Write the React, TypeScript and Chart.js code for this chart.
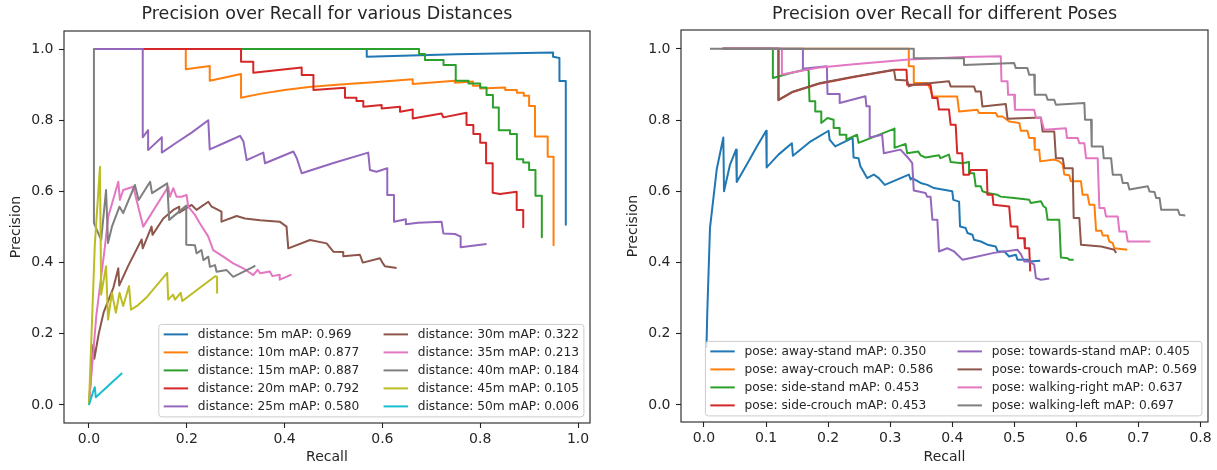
import React, { useEffect, useRef } from 'react';
import { Chart, registerables } from 'chart.js';

Chart.register(...registerables);

type Pt = [number, number];

const COLORS = ['#1f77b4', '#ff7f0e', '#2ca02c', '#d62728', '#9467bd', '#8c564b', '#e377c2', '#7f7f7f', '#bcbd22', '#17becf'];
const FONT = '"DejaVu Sans", sans-serif';
const TEXT = '#262626';

// ---------- Left chart: distances ----------
const distanceTitle = 'Precision over Recall for various Distances';
const distanceLabels = [
  'distance: 5m mAP: 0.969',
  'distance: 10m mAP: 0.877',
  'distance: 15m mAP: 0.887',
  'distance: 20m mAP: 0.792',
  'distance: 25m mAP: 0.580',
  'distance: 30m mAP: 0.322',
  'distance: 35m mAP: 0.213',
  'distance: 40m mAP: 0.184',
  'distance: 45m mAP: 0.105',
  'distance: 50m mAP: 0.006',
];
const distanceXTicks = [0, 0.2, 0.4, 0.6, 0.8, 1.0];
const precisionTicks = [0, 0.2, 0.4, 0.6, 0.8, 1.0];

const dist5m: Pt[] = [[0.0102, 1], [0.568, 1], [0.568, 0.978], [0.75, 0.985], [0.949, 0.99], [0.949, 0.978], [0.962, 0.975], [0.962, 0.91], [0.975, 0.91], [0.975, 0.506]];
const dist10m: Pt[] = [[0.0102, 1], [0.198, 1], [0.198, 0.943], [0.247, 0.952], [0.247, 0.911], [0.311, 0.93], [0.311, 0.863], [0.35, 0.874], [0.4, 0.885], [0.45, 0.893], [0.5, 0.899], [0.55, 0.904], [0.575, 0.906], [0.662, 0.915], [0.662, 0.902], [0.748, 0.911], [0.748, 0.905], [0.785, 0.909], [0.785, 0.897], [0.8, 0.897], [0.8, 0.889], [0.851, 0.892], [0.851, 0.885], [0.875, 0.885], [0.875, 0.877], [0.889, 0.877], [0.889, 0.869], [0.9, 0.869], [0.9, 0.84], [0.912, 0.84], [0.912, 0.754], [0.938, 0.754], [0.938, 0.697], [0.95, 0.697], [0.95, 0.449]];
const dist15m: Pt[] = [[0.0102, 1], [0.675, 1], [0.675, 0.986], [0.687, 0.986], [0.687, 0.969], [0.725, 0.969], [0.725, 0.955], [0.75, 0.955], [0.75, 0.911], [0.776, 0.911], [0.776, 0.903], [0.8, 0.903], [0.8, 0.892], [0.813, 0.892], [0.813, 0.871], [0.826, 0.871], [0.826, 0.836], [0.838, 0.836], [0.838, 0.772], [0.861, 0.772], [0.861, 0.761], [0.875, 0.761], [0.875, 0.69], [0.888, 0.69], [0.888, 0.681], [0.9, 0.681], [0.9, 0.66], [0.913, 0.66], [0.913, 0.588], [0.926, 0.588], [0.926, 0.471]];
const dist20m: Pt[] = [[0.0102, 1], [0.311, 1], [0.311, 0.964], [0.336, 0.964], [0.336, 0.933], [0.435, 0.948], [0.435, 0.927], [0.459, 0.927], [0.459, 0.885], [0.5235, 0.891], [0.5235, 0.863], [0.547, 0.863], [0.547, 0.854], [0.561, 0.854], [0.561, 0.838], [0.5985, 0.843], [0.5985, 0.833], [0.636, 0.838], [0.636, 0.824], [0.662, 0.83], [0.662, 0.805], [0.721, 0.819], [0.7246, 0.808], [0.772, 0.821], [0.772, 0.7865], [0.786, 0.7865], [0.786, 0.761], [0.8, 0.761], [0.8, 0.737], [0.812, 0.737], [0.812, 0.679], [0.8255, 0.679], [0.8255, 0.596], [0.8405, 0.593], [0.8746, 0.599], [0.8746, 0.548], [0.888, 0.548], [0.888, 0.499]];
const dist25m: Pt[] = [[0.0102, 1], [0.11, 1], [0.11, 0.752], [0.121, 0.772], [0.121, 0.716], [0.149, 0.752], [0.149, 0.709], [0.18, 0.738], [0.21, 0.765], [0.244, 0.8], [0.247, 0.718], [0.28, 0.738], [0.309, 0.756], [0.316, 0.74], [0.3225, 0.688], [0.3565, 0.709], [0.36, 0.679], [0.418, 0.712], [0.425, 0.693], [0.435, 0.651], [0.5, 0.68], [0.571, 0.709], [0.5746, 0.66], [0.588, 0.655], [0.61, 0.665], [0.61, 0.59], [0.6237, 0.59], [0.6237, 0.515], [0.648, 0.5215], [0.648, 0.5075], [0.673, 0.512], [0.721, 0.515], [0.7246, 0.482], [0.7485, 0.4803], [0.76, 0.473], [0.76, 0.443], [0.813, 0.452]];
const dist30m: Pt[] = [[0, 0], [0.006, 0.125], [0.009, 0.17], [0.011, 0.13], [0.02, 0.2], [0.03, 0.26], [0.05, 0.33], [0.06, 0.384], [0.062, 0.336], [0.08, 0.39], [0.1077, 0.465], [0.11, 0.44], [0.128, 0.501], [0.13, 0.478], [0.152, 0.524], [0.1725, 0.548], [0.1847, 0.557], [0.1847, 0.54], [0.21, 0.562], [0.22, 0.548], [0.244, 0.571], [0.251, 0.557], [0.271, 0.543], [0.271, 0.515], [0.302, 0.531], [0.319, 0.524], [0.35, 0.519], [0.39, 0.515], [0.404, 0.501], [0.4076, 0.44], [0.452, 0.4635], [0.486, 0.454], [0.4997, 0.4307], [0.52, 0.43], [0.52, 0.418], [0.554, 0.422], [0.56, 0.4], [0.595, 0.412], [0.6, 0.4], [0.605, 0.39], [0.629, 0.385]];
const dist35m: Pt[] = [[0, 0], [0.015, 0.25], [0.0327, 0.445], [0.0395, 0.529], [0.06, 0.627], [0.0634, 0.576], [0.07, 0.604], [0.0906, 0.613], [0.111, 0.501], [0.162, 0.613], [0.1656, 0.585], [0.1725, 0.609], [0.179, 0.585], [0.1895, 0.585], [0.1997, 0.59], [0.203, 0.557], [0.2168, 0.534], [0.227, 0.51], [0.244, 0.473], [0.254, 0.435], [0.2747, 0.4166], [0.295, 0.398], [0.3155, 0.384], [0.336, 0.365], [0.345, 0.38], [0.35, 0.37], [0.37, 0.375], [0.375, 0.362], [0.39, 0.366], [0.39, 0.352], [0.414, 0.366]];
const dist40m: Pt[] = [[0.0102, 1], [0.0102, 0.511], [0.025, 0.464], [0.035, 0.604], [0.039, 0.455], [0.047, 0.501], [0.0625, 0.557], [0.07, 0.539], [0.094, 0.618], [0.1016, 0.576], [0.125, 0.627], [0.129, 0.595], [0.16, 0.6226], [0.164, 0.52], [0.199, 0.56], [0.199, 0.45], [0.2168, 0.449], [0.22, 0.426], [0.23, 0.435], [0.234, 0.407], [0.244, 0.4166], [0.2474, 0.388], [0.2577, 0.393], [0.261, 0.374], [0.2816, 0.379], [0.295, 0.36], [0.336, 0.388], [0.34, 0.392]];
const dist45m: Pt[] = [[0, 0], [0.012, 0.45], [0.0225, 0.669], [0.025, 0.31], [0.035, 0.39], [0.039, 0.24], [0.047, 0.315], [0.055, 0.259], [0.0625, 0.315], [0.07, 0.278], [0.082, 0.334], [0.086, 0.268], [0.1, 0.28], [0.117, 0.301], [0.16, 0.371], [0.162, 0.296], [0.172, 0.31], [0.176, 0.296], [0.1875, 0.315], [0.191, 0.292], [0.258, 0.3616], [0.262, 0.36], [0.262, 0.315]];
const dist50m: Pt[] = [[0, 0], [0.008, 0.035], [0.012, 0.05], [0.014, 0.022], [0.068, 0.09]];

const distanceSeries = [dist5m, dist10m, dist15m, dist20m, dist25m, dist30m, dist35m, dist40m, dist45m, dist50m];

// ---------- Right chart: poses ----------
const poseTitle = 'Precision over Recall for different Poses';
const poseLabels = [
  'pose: away-stand mAP: 0.350',
  'pose: away-crouch mAP: 0.586',
  'pose: side-stand mAP: 0.453',
  'pose: side-crouch mAP: 0.453',
  'pose: towards-stand mAP: 0.405',
  'pose: towards-crouch mAP: 0.569',
  'pose: walking-right mAP: 0.637',
  'pose: walking-left mAP: 0.697',
];
const poseXTicks = [0, 0.1, 0.2, 0.3, 0.4, 0.5, 0.6, 0.7, 0.8];

const awayStand: Pt[] = [[0.004, 0.16], [0.0054, 0.263], [0.0097, 0.497], [0.0205, 0.661], [0.0312, 0.751], [0.0323, 0.6], [0.042, 0.675], [0.0517, 0.717], [0.0528, 0.626], [0.069, 0.675], [0.085, 0.725], [0.1002, 0.77], [0.101, 0.667], [0.12, 0.703], [0.1416, 0.735], [0.1433, 0.7], [0.17, 0.738], [0.2008, 0.77], [0.2024, 0.745], [0.2115, 0.726], [0.2395, 0.75], [0.241, 0.695], [0.249, 0.693], [0.252, 0.67], [0.2628, 0.637], [0.2735, 0.647], [0.2816, 0.637], [0.2913, 0.618], [0.3301, 0.647], [0.3328, 0.633], [0.3355, 0.637], [0.349, 0.6235], [0.36, 0.618], [0.3705, 0.609], [0.4, 0.6], [0.4017, 0.576], [0.411, 0.571], [0.4125, 0.501], [0.4216, 0.497], [0.4244, 0.483], [0.4325, 0.478], [0.435, 0.464], [0.446, 0.459], [0.4567, 0.45], [0.47, 0.445], [0.473, 0.431], [0.484, 0.431], [0.4916, 0.417], [0.5024, 0.422], [0.505, 0.408], [0.5213, 0.408], [0.524, 0.403], [0.5417, 0.405]];
const awayCrouch: Pt[] = [[0.03, 1], [0.33, 1], [0.33, 0.951], [0.338, 0.951], [0.338, 0.904], [0.36, 0.904], [0.365, 0.885], [0.368, 0.866], [0.408, 0.866], [0.411, 0.824], [0.4405, 0.829], [0.443, 0.82], [0.47, 0.82], [0.473, 0.81], [0.481, 0.81], [0.4917, 0.796], [0.508, 0.792], [0.5105, 0.77], [0.521, 0.77], [0.524, 0.75], [0.532, 0.75], [0.533, 0.717], [0.54, 0.717], [0.5417, 0.684], [0.5643, 0.689], [0.5724, 0.684], [0.578, 0.675], [0.5805, 0.647], [0.5886, 0.645], [0.591, 0.628], [0.6074, 0.628], [0.61, 0.59], [0.618, 0.59], [0.621, 0.562], [0.629, 0.562], [0.6317, 0.489], [0.64, 0.489], [0.6424, 0.476], [0.6505, 0.476], [0.653, 0.459], [0.6586, 0.4545], [0.661, 0.44], [0.682, 0.4357]];
const sideStand: Pt[] = [[0.03, 1], [0.111, 1], [0.111, 0.918], [0.14, 0.932], [0.1685, 0.944], [0.17, 0.853], [0.1793, 0.853], [0.1793, 0.824], [0.189, 0.824], [0.189, 0.792], [0.199, 0.806], [0.2089, 0.801], [0.2089, 0.778], [0.2186, 0.778], [0.2186, 0.759], [0.2294, 0.759], [0.2294, 0.745], [0.2466, 0.759], [0.249, 0.736], [0.307, 0.776], [0.307, 0.722], [0.3247, 0.733], [0.3274, 0.707], [0.345, 0.712], [0.349, 0.701], [0.357, 0.695], [0.3786, 0.701], [0.381, 0.693], [0.3947, 0.703], [0.3974, 0.682], [0.416, 0.679], [0.427, 0.682], [0.427, 0.651], [0.435, 0.651], [0.4378, 0.614], [0.446, 0.614], [0.4486, 0.6], [0.4567, 0.595], [0.4728, 0.59], [0.478, 0.585], [0.4997, 0.581], [0.524, 0.576], [0.5266, 0.567], [0.5428, 0.572], [0.547, 0.558], [0.551, 0.553], [0.5536, 0.52], [0.5724, 0.52], [0.575, 0.414], [0.586, 0.412], [0.5886, 0.4077], [0.5956, 0.4077]];
const sideCrouch: Pt[] = [[0.03, 1], [0.12, 1], [0.12, 0.856], [0.143, 0.879], [0.1874, 0.903], [0.2413, 0.921], [0.3086, 0.9415], [0.3263, 0.9415], [0.3274, 0.899], [0.365, 0.899], [0.368, 0.862], [0.376, 0.862], [0.3786, 0.8295], [0.3947, 0.8295], [0.3974, 0.787], [0.4055, 0.787], [0.408, 0.707], [0.416, 0.707], [0.418, 0.6466], [0.427, 0.6466], [0.4297, 0.66], [0.4556, 0.66], [0.4567, 0.59], [0.4648, 0.59], [0.4664, 0.562], [0.4917, 0.5575], [0.4943, 0.501], [0.505, 0.501], [0.506, 0.468], [0.5159, 0.468], [0.517, 0.44], [0.524, 0.44], [0.5256, 0.375]];
const towardsStand: Pt[] = [[0.03, 1], [0.1594, 1], [0.1594, 0.944], [0.198, 0.951], [0.199, 0.873], [0.2186, 0.873], [0.2186, 0.848], [0.2601, 0.867], [0.2617, 0.839], [0.267, 0.839], [0.267, 0.751], [0.287, 0.759], [0.2897, 0.707], [0.3166, 0.717], [0.3284, 0.695], [0.3355, 0.679], [0.338, 0.602], [0.357, 0.595], [0.3595, 0.585], [0.365, 0.585], [0.368, 0.52], [0.376, 0.52], [0.3786, 0.431], [0.392, 0.44], [0.403, 0.431], [0.4163, 0.408], [0.4297, 0.4125], [0.467, 0.427], [0.5051, 0.4357], [0.5105, 0.4236], [0.516, 0.403], [0.524, 0.403], [0.532, 0.394], [0.5348, 0.356], [0.5428, 0.3516], [0.5563, 0.355]];
const towardsCrouch: Pt[] = [[0.03, 1], [0.12, 1], [0.12, 0.857], [0.143, 0.88], [0.1874, 0.904], [0.2413, 0.922], [0.306, 0.9415], [0.3086, 0.9135], [0.3274, 0.911], [0.33, 0.8946], [0.338, 0.899], [0.3947, 0.909], [0.3974, 0.8946], [0.435, 0.8946], [0.4378, 0.88], [0.446, 0.88], [0.4486, 0.838], [0.4863, 0.845], [0.489, 0.804], [0.5428, 0.8075], [0.5455, 0.768], [0.5643, 0.768], [0.567, 0.693], [0.578, 0.693], [0.5805, 0.665], [0.594, 0.665], [0.5956, 0.525], [0.6047, 0.525], [0.6074, 0.45], [0.64, 0.445], [0.661, 0.436], [0.664, 0.427]];
const walkingRight: Pt[] = [[0.03, 1], [0.1255, 1], [0.1255, 0.928], [0.1551, 0.938], [0.1874, 0.948], [0.2413, 0.957], [0.33, 0.97], [0.4189, 0.977], [0.4782, 0.979], [0.4793, 0.909], [0.489, 0.909], [0.49, 0.8708], [0.4997, 0.8708], [0.501, 0.829], [0.532, 0.829], [0.535, 0.8057], [0.5428, 0.8057], [0.548, 0.773], [0.583, 0.777], [0.5848, 0.75], [0.602, 0.75], [0.6047, 0.735], [0.6128, 0.735], [0.6155, 0.693], [0.6343, 0.693], [0.637, 0.553], [0.645, 0.553], [0.6478, 0.529], [0.6666, 0.529], [0.6693, 0.487], [0.68, 0.487], [0.6827, 0.459], [0.719, 0.459]];
const walkingLeft: Pt[] = [[0.0097, 1], [0.338, 1], [0.338, 0.974], [0.4189, 0.974], [0.4189, 0.955], [0.4997, 0.96], [0.5024, 0.946], [0.521, 0.946], [0.524, 0.927], [0.532, 0.927], [0.533, 0.871], [0.551, 0.871], [0.5536, 0.857], [0.5643, 0.857], [0.567, 0.843], [0.6128, 0.848], [0.6139, 0.801], [0.6236, 0.801], [0.6247, 0.726], [0.6424, 0.726], [0.644, 0.693], [0.6559, 0.693], [0.6586, 0.6466], [0.672, 0.6466], [0.6747, 0.623], [0.6827, 0.623], [0.6854, 0.605], [0.715, 0.614], [0.7178, 0.5997], [0.7258, 0.598], [0.7285, 0.581], [0.734, 0.581], [0.7366, 0.548], [0.7636, 0.548], [0.7663, 0.534], [0.7754, 0.532]];

const poseSeries = [awayStand, awayCrouch, sideStand, sideCrouch, towardsStand, towardsCrouch, walkingRight, walkingLeft];

// ---------- plugins ----------
const framePlugin = {
  id: 'mplFrame',
  afterDatasetsDraw(chart: any) {
    const { ctx, chartArea } = chart;
    ctx.save();
    ctx.strokeStyle = '#222';
    ctx.lineWidth = 1.1;
    ctx.strokeRect(chartArea.left, chartArea.top, chartArea.right - chartArea.left, chartArea.bottom - chartArea.top);
    ctx.restore();
  },
};

const legendPlugin = {
  id: 'mplLegend',
  afterDraw(chart: any) {
    const { ctx, chartArea } = chart;
    const f = 12.2;
    const ds = chart.data.datasets;
    const ncol = 2;
    const nrows = Math.ceil(ds.length / ncol);
    const pad = 0.4 * f;
    const hl = 2 * f;
    const htp = 0.8 * f;
    const cs = 2 * f;
    const axpad = 0.5 * f;
    const rowStep = 18;
    const topInset = 10;
    const bottomInset = 10.5;
    ctx.save();
    ctx.font = `${f}px ${FONT}`;
    const colW: number[] = [];
    for (let c = 0; c < ncol; c++) {
      let m = 0;
      for (let r = 0; r < nrows; r++) {
        const i = c * nrows + r;
        if (i < ds.length) m = Math.max(m, ctx.measureText(ds[i].label).width);
      }
      colW.push(hl + htp + m);
    }
    const boxW = 2 * pad + colW.reduce((a, b) => a + b, 0) + cs * (ncol - 1);
    const boxH = topInset + (nrows - 1) * rowStep + bottomInset;
    const right = chartArea.right - axpad;
    const bottom = chartArea.bottom - axpad;
    const left = right - boxW;
    const top = bottom - boxH;
    const rad = 3;
    ctx.beginPath();
    ctx.moveTo(left + rad, top);
    ctx.lineTo(right - rad, top);
    ctx.arcTo(right, top, right, top + rad, rad);
    ctx.lineTo(right, bottom - rad);
    ctx.arcTo(right, bottom, right - rad, bottom, rad);
    ctx.lineTo(left + rad, bottom);
    ctx.arcTo(left, bottom, left, bottom - rad, rad);
    ctx.lineTo(left, top + rad);
    ctx.arcTo(left, top, left + rad, top, rad);
    ctx.closePath();
    ctx.fillStyle = 'rgba(255,255,255,0.8)';
    ctx.fill();
    ctx.strokeStyle = '#cccccc';
    ctx.lineWidth = 1;
    ctx.stroke();
    ctx.textBaseline = 'middle';
    ctx.textAlign = 'left';
    let x0 = left + pad;
    for (let c = 0; c < ncol; c++) {
      for (let r = 0; r < nrows; r++) {
        const i = c * nrows + r;
        if (i >= ds.length) continue;
        const y = top + topInset + r * rowStep;
        ctx.strokeStyle = ds[i].borderColor;
        ctx.lineWidth = 2;
        ctx.beginPath();
        ctx.moveTo(x0, y);
        ctx.lineTo(x0 + hl, y);
        ctx.stroke();
        ctx.fillStyle = TEXT;
        ctx.fillText(ds[i].label, x0 + hl + htp, y + 0.5);
      }
      x0 += colW[c] + cs;
    }
    ctx.restore();
  },
};

interface ChartSpec {
  title: string;
  labels: string[];
  series: Pt[][];
  xMin: number;
  xMax: number;
  xTicks: number[];
  yMin: number;
  yMax: number;
  yTicks: number[];
  xAxisH: number;
  titlePadBottom: number;
  padRight: number;
}

function buildConfig(s: ChartSpec): any {
  const n = s.series.length;
  const tickFont = { family: FONT, size: 14 };
  return {
    type: 'line',
    data: {
      datasets: s.series.map((pts, i) => ({
        label: s.labels[i],
        data: pts.map(([x, y]) => ({ x, y })),
        borderColor: COLORS[i],
        backgroundColor: COLORS[i],
        borderWidth: 2,
        pointRadius: 0,
        tension: 0,
        fill: false,
        borderJoinStyle: 'round',
        order: n - i,
      })),
    },
    options: {
      animation: false,
      responsive: false,
      maintainAspectRatio: false,
      layout: { padding: { left: 0, right: s.padRight, top: 0, bottom: 0 } },
      plugins: {
        legend: { display: false },
        tooltip: { enabled: false },
        title: {
          display: true,
          text: s.title,
          fullSize: false,
          color: TEXT,
          font: { family: FONT, size: 17.5, weight: 'normal' },
          padding: { top: 3.5, bottom: s.titlePadBottom },
        },
      },
      scales: {
        x: {
          type: 'linear',
          min: s.xMin,
          max: s.xMax,
          afterBuildTicks: (sc: any) => {
            sc.ticks = s.xTicks.map((v) => ({ value: v }));
          },
          afterFit: (sc: any) => {
            sc.height = s.xAxisH;
          },
          ticks: {
            callback: (v: any) => Number(v).toFixed(1),
            font: tickFont,
            color: TEXT,
            padding: 3,
            maxRotation: 0,
            autoSkip: false,
          },
          grid: { display: true, drawOnChartArea: false, drawTicks: true, tickLength: 5, tickColor: '#222', tickWidth: 1.1 },
          border: { display: false },
          title: { display: true, text: 'Recall', color: TEXT, font: tickFont, padding: { top: 0, bottom: 4 } },
        },
        y: {
          type: 'linear',
          min: s.yMin,
          max: s.yMax,
          afterBuildTicks: (sc: any) => {
            sc.ticks = s.yTicks.map((v) => ({ value: v }));
          },
          afterFit: (sc: any) => {
            sc.width = 64;
          },
          ticks: {
            callback: (v: any) => Number(v).toFixed(1),
            font: tickFont,
            color: TEXT,
            padding: 5.5,
            autoSkip: false,
          },
          grid: { display: true, drawOnChartArea: false, drawTicks: true, tickLength: 5, tickColor: '#222', tickWidth: 1.1 },
          border: { display: false },
          title: { display: true, text: 'Precision', color: TEXT, font: tickFont, padding: { top: 8, bottom: 0 } },
        },
      },
    },
    plugins: [framePlugin, legendPlugin],
  };
}

export default function App() {
  const leftRef = useRef<HTMLCanvasElement | null>(null);
  const rightRef = useRef<HTMLCanvasElement | null>(null);

  useEffect(() => {
    const charts: Chart[] = [];
    if (leftRef.current) {
      charts.push(
        new Chart(
          leftRef.current,
          buildConfig({
            title: distanceTitle,
            labels: distanceLabels,
            series: distanceSeries,
            xMin: -0.051,
            xMax: 1.0245,
            xTicks: distanceXTicks,
            yMin: -0.0506,
            yMax: 1.0506,
            yTicks: precisionTicks,
            xAxisH: 47,
            titlePadBottom: 6.5,
            padRight: 10,
          })
        )
      );
    }
    if (rightRef.current) {
      charts.push(
        new Chart(
          rightRef.current,
          buildConfig({
            title: poseTitle,
            labels: poseLabels,
            series: poseSeries,
            xMin: -0.037,
            xMax: 0.812,
            xTicks: poseXTicks,
            yMin: -0.048,
            yMax: 1.053,
            yTicks: precisionTicks,
            xAxisH: 48,
            titlePadBottom: 5.5,
            padRight: 9,
          })
        )
      );
    }
    return () => {
      charts.forEach((c) => c.destroy());
    };
  }, []);

  return (
    <div style={{ position: 'absolute', left: 0, top: 0, width: 1217, height: 470, background: '#fff', overflow: 'hidden' }}>
      <canvas ref={leftRef} width={600} height={470} style={{ position: 'absolute', left: 0, top: 0, width: 600, height: 470 }} />
      <canvas ref={rightRef} width={600} height={470} style={{ position: 'absolute', left: 617, top: 0, width: 600, height: 470 }} />
    </div>
  );
}
